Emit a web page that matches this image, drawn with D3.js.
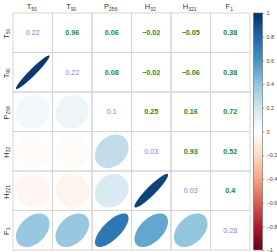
<!DOCTYPE html>
<html><head><meta charset="utf-8">
<script src="https://cdn.jsdelivr.net/npm/d3@7"></script>
<style>body{margin:0;background:#fff}svg{display:block}</style>
</head><body><svg id="c" width="277" height="252"></svg>
<script>
const vars = [["T","50"],["T","90"],["P","256"],["H","32"],["H","321"],["F","1"]];
const corrRows = [
  [0.22, 0.96, 0.06, -0.02, -0.05, 0.38],
  [0.96, 0.22, 0.08, -0.02, -0.06, 0.38],
  [0.06, 0.08, 0.10, 0.25, 0.16, 0.72],
  [-0.02, -0.02, 0.25, 0.03, 0.93, 0.52],
  [-0.05, -0.06, 0.16, 0.93, 0.03, 0.40],
  [0.38, 0.38, 0.72, 0.52, 0.40, 0.28]
];
const legendTicks = [1, 0.8, 0.6, 0.4, 0.2, 0, -0.2, -0.4, -0.6, -0.8, -1];
const palette = ["#67001F","#B2182B","#D6604D","#F4A582","#FDDBC7","#FFFFFF","#D1E5F0","#92C5DE","#4393C3","#2166AC","#053061"];

const svg = d3.select("#c");
const L = 13, T = 13, W = 237;
const idx = d3.range(vars.length);
const x = d3.scaleBand().domain(idx).range([L, L + W]);
const y = d3.scaleBand().domain(idx).range([T, T + W]);
const color = d3.scaleLinear().domain(d3.range(11).map(i => -1 + i * 0.2)).range(palette).clamp(true);
const bw = x.bandwidth();

// grid
const g = svg.append("g");
idx.forEach(i => idx.forEach(j => {
  g.append("rect").attr("x", x(j)).attr("y", y(i)).attr("width", bw).attr("height", bw)
   .attr("fill", "none").attr("stroke", "#d6d6d6").attr("stroke-width", 1);
}));

// ellipses (lower triangle)
const ellPts = r => {
  const a = Math.acos(r);
  return d3.range(0, 100).map(t => {
    const k = t / 99 * 2 * Math.PI;
    return [0.85 * Math.cos(k + a / 2) / 2, 0.85 * Math.cos(k - a / 2) / 2];
  });
};
idx.forEach(i => idx.forEach(j => {
  if (j < i) {
    const r = corrRows[i][j];
    const cx = x(j) + bw / 2, cy = y(i) + bw / 2;
    const line = d3.line().x(p => cx + p[0] * bw).y(p => cy - p[1] * bw);
    svg.append("path").attr("d", line(ellPts(r)) + "Z").attr("fill", color(r)).attr("stroke", "none");
  }
}));

// numbers (upper triangle + diagonal)
const fmt = v => { let s = String(v); return s.replace("-", "\u2212"); };
idx.forEach(i => idx.forEach(j => {
  if (j >= i) {
    const v = corrRows[i][j];
    svg.append("text").attr("x", x(j) + bw / 2).attr("y", y(i) + bw / 2 + 2.5)
      .attr("text-anchor", "middle").attr("font-family", "Liberation Sans, Arial, sans-serif")
      .attr("font-size", 7.2).attr("font-weight", j === i ? "normal" : "bold")
      .attr("fill", j === i ? "#9a74d6" : "#1e8a1e").text(fmt(v));
  }
}));

// labels
const lab = (sel, v) => {
  sel.append("tspan").text(v[0]);
  sel.append("tspan").attr("font-size", 5).attr("dy", 1.8).text(v[1]);
};
idx.forEach(i => {
  const t = svg.append("text").attr("x", x(i) + bw / 2 - 1).attr("y", 9)
    .attr("text-anchor", "middle").attr("font-family", "Liberation Sans, Arial, sans-serif")
    .attr("font-size", 7.5).attr("fill", "#333");
  lab(t, vars[i]);
  const s = svg.append("text").attr("transform", `translate(8.5,${y(i) + bw / 2 + 1}) rotate(-90)`)
    .attr("text-anchor", "middle").attr("font-family", "Liberation Sans, Arial, sans-serif")
    .attr("font-size", 7.5).attr("fill", "#333");
  lab(s, vars[i]);
});

// color bar
const cbX = 253.5, cbW = 9;
const cy = d3.scaleLinear().domain([1, -1]).range([T, T + W]);
const defs = svg.append("defs");
const grad = defs.append("linearGradient").attr("id", "gr").attr("x1", 0).attr("y1", 0).attr("x2", 0).attr("y2", 1);
palette.slice().reverse().forEach((c, i) => grad.append("stop").attr("offset", i / 10).attr("stop-color", c));
svg.append("rect").attr("x", cbX).attr("y", T).attr("width", cbW).attr("height", W)
  .attr("fill", "url(#gr)").attr("stroke", "#666").attr("stroke-width", 0.6);
const ax = svg.append("g").attr("transform", `translate(${cbX + cbW},0)`)
  .call(d3.axisRight(cy).tickValues(legendTicks).tickSize(2).tickPadding(2).tickFormat(d => fmt(d)));
ax.select(".domain").remove();
ax.selectAll("line").attr("stroke", "#666").attr("stroke-width", 0.6);
ax.selectAll("text").attr("font-size", 5.5).attr("fill", "#444").attr("font-family", "Liberation Sans, Arial, sans-serif");
</script></body></html>
